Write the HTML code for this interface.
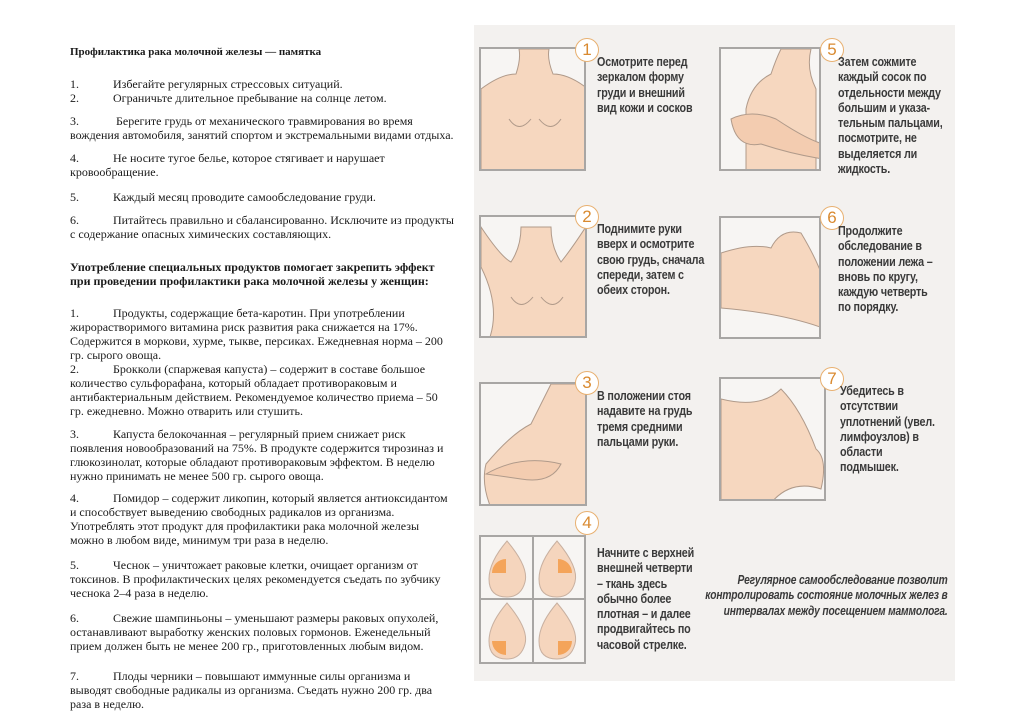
<!DOCTYPE html>
<html><head><meta charset="utf-8">
<style>
body{margin:0;width:1024px;height:725px;background:#fff;position:relative;overflow:hidden;font-family:"Liberation Serif",serif;color:#1a1a1a}
.l{position:absolute;white-space:nowrap;font-size:12px;line-height:14px}
.n{position:absolute;left:70px}
.t{position:absolute;left:113px}
.b{font-weight:bold}
#panel{position:absolute;left:474px;top:25px;width:481px;height:656px;background:#f3f1ef}
.box{position:absolute;border:2px solid #a8a6a4;background:#f7f5f3;overflow:hidden;box-sizing:border-box}
.c{position:absolute;width:24px;height:24px;border-radius:50%;background:#fff;border:1.5px solid #e8b070;box-sizing:border-box;font-family:"Liberation Sans",sans-serif;font-size:17px;color:#d98a30;text-align:center;line-height:22px}
.tx{position:absolute;font-family:"Liberation Sans",sans-serif;font-weight:bold;font-size:12.5px;line-height:15.3px;color:#3a3a3a;white-space:nowrap;transform:scaleX(0.86);transform-origin:left top;letter-spacing:-0.2px}
</style></head><body>
<div class="l b" style="left:70px;top:45px;font-size:11px">Профилактика рака молочной железы — памятка</div>
<div class="l" style="top:77px"><span class="n">1.</span><span class="t">Избегайте регулярных стрессовых ситуаций.</span></div>
<div class="l" style="top:91px"><span class="n">2.</span><span class="t">Ограничьте длительное пребывание на солнце летом.</span></div>
<div class="l" style="top:114px"><span class="n">3.</span><span class="t">&nbsp;Берегите грудь от механического травмирования во время</span></div>
<div class="l" style="top:128px;left:70px">вождения автомобиля, занятий спортом и экстремальными видами отдыха.</div>
<div class="l" style="top:151px"><span class="n">4.</span><span class="t">Не носите тугое белье, которое стягивает и нарушает</span></div>
<div class="l" style="top:165px;left:70px">кровообращение.</div>
<div class="l" style="top:190px"><span class="n">5.</span><span class="t">Каждый месяц проводите самообследование груди.</span></div>
<div class="l" style="top:213px"><span class="n">6.</span><span class="t">Питайтесь правильно и сбалансированно. Исключите из продукты</span></div>
<div class="l" style="top:227px;left:70px">с содержание опасных химических составляющих.</div>
<div class="l b" style="top:260px;left:70px">Употребление специальных продуктов помогает закрепить эффект</div>
<div class="l b" style="top:274px;left:70px">при проведении профилактики рака молочной железы у женщин:</div>
<div class="l" style="top:306px"><span class="n">1.</span><span class="t">Продукты, содержащие бета-каротин. При употреблении</span></div>
<div class="l" style="top:320px;left:70px">жирорастворимого витамина риск развития рака снижается на 17%.</div>
<div class="l" style="top:334px;left:70px">Содержится в моркови, хурме, тыкве, персиках. Ежедневная норма – 200</div>
<div class="l" style="top:348px;left:70px">гр. сырого овоща.</div>
<div class="l" style="top:362px"><span class="n">2.</span><span class="t">Брокколи (спаржевая капуста) – содержит в составе большое</span></div>
<div class="l" style="top:376px;left:70px">количество сульфорафана, который обладает противораковым и</div>
<div class="l" style="top:390px;left:70px">антибактериальным действием. Рекомендуемое количество приема – 50</div>
<div class="l" style="top:404px;left:70px">гр. ежедневно. Можно отварить или стушить.</div>
<div class="l" style="top:427px"><span class="n">3.</span><span class="t">Капуста белокочанная – регулярный прием снижает риск</span></div>
<div class="l" style="top:441px;left:70px">появления новообразований на 75%. В продукте содержится тирозиназ и</div>
<div class="l" style="top:455px;left:70px">глюкозинолат, которые обладают противораковым эффектом. В неделю</div>
<div class="l" style="top:469px;left:70px">нужно принимать не менее 500 гр. сырого овоща.</div>
<div class="l" style="top:491px"><span class="n">4.</span><span class="t">Помидор – содержит ликопин, который является антиоксидантом</span></div>
<div class="l" style="top:505px;left:70px">и способствует выведению свободных радикалов из организма.</div>
<div class="l" style="top:519px;left:70px">Употреблять этот продукт для профилактики рака молочной железы</div>
<div class="l" style="top:533px;left:70px">можно в любом виде, минимум три раза в неделю.</div>
<div class="l" style="top:558px"><span class="n">5.</span><span class="t">Чеснок – уничтожает раковые клетки, очищает организм от</span></div>
<div class="l" style="top:572px;left:70px">токсинов. В профилактических целях рекомендуется съедать по зубчику</div>
<div class="l" style="top:586px;left:70px">чеснока 2–4 раза в неделю.</div>
<div class="l" style="top:611px"><span class="n">6.</span><span class="t">Свежие шампиньоны – уменьшают размеры раковых опухолей,</span></div>
<div class="l" style="top:625px;left:70px">останавливают выработку женских половых гормонов. Еженедельный</div>
<div class="l" style="top:639px;left:70px">прием должен быть не менее 200 гр., приготовленных любым видом.</div>
<div class="l" style="top:669px"><span class="n">7.</span><span class="t">Плоды черники – повышают иммунные силы организма и</span></div>
<div class="l" style="top:683px;left:70px">выводят свободные радикалы из организма. Съедать нужно 200 гр. два</div>
<div class="l" style="top:697px;left:70px">раза в неделю.</div>

<div id="panel"></div>
<!-- box1 -->
<div class="box" style="left:479px;top:47px;width:107px;height:124px"><svg width="107" height="124"><path d="M0 40 Q20 25 35 25 Q40 10 38 0 L68 0 Q66 10 72 25 Q88 25 107 40 L107 124 L0 124Z" fill="#f6d7bf" stroke="#b09a8a"/><path d="M28 70 Q38 85 50 70 M58 70 Q70 85 80 70" stroke="#b09a8a" fill="none"/></svg></div>
<div class="c" style="left:575px;top:38px">1</div>
<div class="tx" style="left:597px;top:55px">Осмотрите перед<br>зеркалом форму<br>груди и внешний<br>вид кожи и сосков</div>
<!-- box5 -->
<div class="box" style="left:719px;top:47px;width:102px;height:124px"><svg width="102" height="124"><path d="M25 124 L25 60 Q30 35 50 25 Q55 10 60 0 L90 0 Q85 20 95 40 L95 124Z" fill="#f6d7bf" stroke="#b09a8a"/><path d="M10 70 Q30 60 55 70 Q85 90 102 95 L102 110 Q70 105 40 95 Q15 100 10 70Z" fill="#f3ccb0" stroke="#b09a8a"/></svg></div>
<div class="c" style="left:820px;top:38px">5</div>
<div class="tx" style="left:838px;top:55px">Затем сожмите<br>каждый сосок по<br>отдельности между<br>большим и указа-<br>тельным пальцами,<br>посмотрите, не<br>выделяется ли<br>жидкость.</div>
<!-- box2 -->
<div class="box" style="left:479px;top:215px;width:108px;height:123px"><svg width="108" height="123"><path d="M0 10 Q20 40 30 45 Q40 30 40 10 L70 10 Q70 30 80 45 Q92 30 108 5 L108 123 L8 123 Q20 90 0 50Z" fill="#f6d7bf" stroke="#b09a8a"/><path d="M30 80 Q40 95 52 80 M60 80 Q72 95 82 80" stroke="#b09a8a" fill="none"/></svg></div>
<div class="c" style="left:575px;top:205px">2</div>
<div class="tx" style="left:597px;top:222px">Поднимите руки<br>вверх и осмотрите<br>свою грудь, сначала<br>спереди, затем с<br>обеих сторон.</div>
<!-- box6 -->
<div class="box" style="left:719px;top:216px;width:102px;height:123px"><svg width="102" height="123"><path d="M0 35 Q30 25 50 30 Q60 10 80 15 Q95 40 102 60 L102 110 Q60 95 0 90Z" fill="#f6d7bf" stroke="#b09a8a"/></svg></div>
<div class="c" style="left:820px;top:206px">6</div>
<div class="tx" style="left:838px;top:224px">Продолжите<br>обследование в<br>положении лежа –<br>вновь по кругу,<br>каждую четверть<br>по порядку.</div>
<!-- box3 -->
<div class="box" style="left:479px;top:382px;width:108px;height:124px"><svg width="108" height="124"><path d="M10 124 Q0 100 5 80 Q30 50 50 40 Q60 20 70 0 L108 0 L108 124Z" fill="#f6d7bf" stroke="#b09a8a"/><path d="M5 90 Q40 70 80 80 Q70 100 40 95 Z" fill="#f3ccb0" stroke="#b09a8a"/></svg></div>
<div class="c" style="left:575px;top:371px">3</div>
<div class="tx" style="left:597px;top:389px">В положении стоя<br>надавите на грудь<br>тремя средними<br>пальцами руки.</div>
<!-- box7 -->
<div class="box" style="left:719px;top:377px;width:107px;height:124px"><svg width="107" height="124"><path d="M0 20 Q40 30 60 10 Q80 30 95 70 Q107 80 100 110 Q70 100 50 124 L0 124Z" fill="#f6d7bf" stroke="#b09a8a"/></svg></div>
<div class="c" style="left:820px;top:367px">7</div>
<div class="tx" style="left:840px;top:384px">Убедитесь в<br>отсутствии<br>уплотнений (увел.<br>лимфоузлов) в<br>области<br>подмышек.</div>
<!-- box4 -->
<div class="box" style="left:479px;top:535px;width:107px;height:129px"><svg width="103" height="125"><line x1="52" y1="0" x2="52" y2="125" stroke="#a8a6a4" stroke-width="2"/><line x1="0" y1="62" x2="103" y2="62" stroke="#a8a6a4" stroke-width="2"/>
<g fill="#f5d5bd" stroke="#c8b0a0"><path d="M26 4 Q48 30 44 45 Q40 60 26 60 Q8 60 8 42 Q8 25 26 4Z"/><path d="M76 4 Q98 30 94 45 Q90 60 76 60 Q58 60 58 42 Q58 25 76 4Z"/><path d="M26 66 Q48 92 44 107 Q40 122 26 122 Q8 122 8 104 Q8 87 26 66Z"/><path d="M76 66 Q98 92 94 107 Q90 122 76 122 Q58 122 58 104 Q58 87 76 66Z"/></g>
<g fill="#f4a45a"><path d="M25 22 A14 14 0 0 0 11 36 L25 36Z"/><path d="M77 22 A14 14 0 0 1 91 36 L77 36Z"/><path d="M11 104 A14 14 0 0 0 25 118 L25 104Z"/><path d="M91 104 A14 14 0 0 1 77 118 L77 104Z"/></g></svg></div>
<div class="c" style="left:575px;top:511px">4</div>
<div class="tx" style="left:597px;top:546px">Начните с верхней<br>внешней четверти<br>– ткань здесь<br>обычно более<br>плотная – и далее<br>продвигайтесь по<br>часовой стрелке.</div>
<div class="tx" style="right:76px;top:573px;font-style:italic;text-align:right;transform:scaleX(0.82);transform-origin:right top">Регулярное самообследование позволит<br>контролировать состояние молочных желез в<br>интервалах между посещением маммолога.</div>
</body></html>
